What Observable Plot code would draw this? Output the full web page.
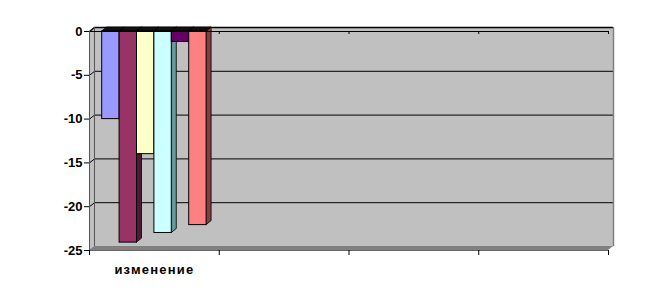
<!DOCTYPE html>
<html>
<head>
<meta charset="utf-8">
<script src="https://cdn.jsdelivr.net/npm/d3@7"></script>
<script src="https://cdn.jsdelivr.net/npm/@observablehq/plot@0.6"></script>
<style>
  html, body { margin: 0; padding: 0; background: #ffffff; }
  #chart svg { display: block; overflow: visible; }
</style>
</head>
<body>
<div id="chart"></div>
<script>
// ---- data ----
const categories = ["изменение", "", "", ""];
const seriesNames = ["Ряд 1", "Ряд 2", "Ряд 3", "Ряд 4", "Ряд 5", "Ряд 6"];
const seriesValues = [-10, -24.1, -14, -23, -1.2, -22.1];
const seriesColors = ["#9999FF", "#993366", "#FFFFCC", "#CCFFFF", "#660066", "#FF8080"];
const sideColors = ["#4D4D80", "#4D1A33", "#808066", "#669999", "#330033", "#804040"];
const yTicks = [0, -5, -10, -15, -20, -25];
const yDomain = [-25, 0];

// ---- layout ----
const W = 672, H = 300;
const mL = 89, mR = 64, mT = 31, mB = 50;
const nCat = categories.length;
const pxX = (W - mL - mR) / nCat;          // px per category unit
const pxY = (H - mT - mB) / (yDomain[1] - yDomain[0]); // px per value unit
const wallDX = 5, wallDY = 4;               // 3D wall depth (px)
const dxu = wallDX / pxX, dyu = wallDY / pxY; // depth in data units
const gapU = 12.7 / pxX, bwU = 17.4 / pxX;    // bar gap and width in category units
const font = "'Liberation Sans', Arial, sans-serif";

// bars (first category only carries values)
const bars = seriesValues.map((v, i) => ({
  series: seriesNames[i],
  value: v,
  x1: gapU + i * bwU,
  x2: gapU + (i + 1) * bwU,
  fill: seriesColors[i],
  side: sideColors[i]
}));
const sides = bars.flatMap(b => [
  {series: b.series, x: b.x2, y1: b.value, y2: 0, fill: b.side},
  {series: b.series, x: b.x2 + dxu, y1: b.value + dyu, y2: dyu, fill: b.side}
]);
const tops = bars.flatMap(b => [
  {series: b.series, x: b.x1, y1: 0, y2: 0},
  {series: b.series, x: b.x1 + dxu, y1: 0, y2: dyu},
  {series: b.series, x: b.x2, y1: 0, y2: dyu},
  {series: b.series, x: b.x2 + dxu, y1: dyu, y2: dyu}
]);

// wall pieces
const y0 = yDomain[0], y1 = yDomain[1];
const leftWall = [
  {x: 0, y1: y0, y2: y1},
  {x: dxu, y1: y0 + dyu, y2: y1 + dyu}
];
const floor = [
  {x: 0, y1: y0, y2: y0},
  {x: dxu, y1: y0, y2: y0 + dyu},
  {x: nCat, y1: y0, y2: y0 + dyu},
  {x: nCat + dxu, y1: y0 + dyu, y2: y0 + dyu}
];
const gridVals = yTicks.filter(v => v !== y0 && v !== y1);

const chart = Plot.plot({
  width: W, height: H,
  marginLeft: mL, marginRight: mR, marginTop: mT, marginBottom: mB,
  style: {background: "#ffffff", fontFamily: font, color: "#000"},
  x: {domain: [0, nCat], axis: null},
  y: {domain: yDomain, axis: null},
  color: {type: "identity"},
  marks: [
    // back wall
    Plot.frame({fill: "#c0c0c0", stroke: null, dx: wallDX, dy: -wallDY}),
    // left side wall
    Plot.area(leftWall, {x1: "x", y1: "y1", y2: "y2", fill: "#c0c0c0"}),
    // floor
    Plot.area(floor, {x1: "x", y1: "y1", y2: "y2", fill: "#808080"}),
    // gridlines on back wall
    Plot.ruleY(gridVals, {x1: dxu, x2: nCat + dxu, dy: -wallDY, stroke: "#000", strokeWidth: 1}),
    // gridline continuation on side wall
    Plot.link(gridVals, {x1: 0, y1: d => d, x2: dxu, y2: d => d + dyu, stroke: "#000", strokeWidth: 1}),
    // wall top border and right edge
    Plot.ruleY([y1], {x1: dxu, x2: nCat + dxu, dy: -wallDY, stroke: "#000", strokeWidth: 1.5}),
    Plot.link([0], {x1: 0, y1: y1, x2: dxu, y2: y1 + dyu, stroke: "#000", strokeWidth: 1.5}),
    Plot.ruleX([nCat + dxu], {y1: y0 + dyu, y2: y1 + dyu, stroke: "#808080", strokeWidth: 1.5}),
    Plot.ruleX([dxu], {y1: y0 + dyu, y2: y1 + dyu, stroke: "#555", strokeWidth: 1}),
    // bar sides and tops
    Plot.area(sides, {x1: "x", y1: "y1", y2: "y2", z: "series", fill: "fill", stroke: "#000", strokeWidth: 0.8}),
    Plot.area(tops, {x1: "x", y1: "y1", y2: "y2", z: "series", fill: "#111", stroke: "#000", strokeWidth: 0.8}),
    // bar fronts
    Plot.rect(bars, {x1: "x1", x2: "x2", y1: 0, y2: "value", fill: "fill", stroke: "#000", strokeWidth: 1}),
    // front axis line at zero with category ticks
    Plot.ruleY([0], {stroke: "#000", strokeWidth: 1}),
    Plot.ruleX(d3.range(1, nCat + 1), {y1: 0, y2: 0, insetBottom: -3, stroke: "#000"}),
    // front left edge & bottom edge
    Plot.ruleX([0], {y1: y0, y2: y1, stroke: "#555", strokeWidth: 1}),
    Plot.ruleY([y0], {stroke: "#666", strokeWidth: 1}),
    // y axis
    Plot.axisY({
      ticks: yTicks, tickSize: 5, tickPadding: 2,
      tickFormat: d => String(d),
      fontSize: 13, fontWeight: "bold", fontFamily: font, stroke: "#000"
    }),
    // x axis ticks at category boundaries
    Plot.axisX({
      ticks: d3.range(0, nCat + 1), tickSize: 5, tickFormat: () => "",
      stroke: "#000"
    }),
    // category labels
    Plot.text(categories, {
      x: (d, i) => i + 0.5, y: y0, dy: 19, text: d => d,
      fontSize: 13, fontWeight: "bold", fontFamily: font, fill: "#000"
    })
  ]
});
chart.querySelectorAll("text").forEach(t => {
  if (t.textContent === "изменение") t.setAttribute("letter-spacing", "1.2");
});
document.getElementById("chart").appendChild(chart);
</script>
</body>
</html>
